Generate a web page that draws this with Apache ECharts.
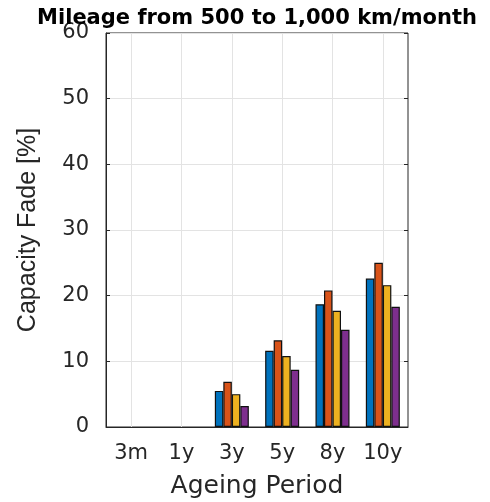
<!DOCTYPE html>
<html>
<head>
<meta charset="utf-8">
<title>Capacity fade</title>
<script src="https://cdn.jsdelivr.net/npm/echarts@6/dist/echarts.min.js"></script>
<style>
  html, body { margin: 0; padding: 0; background: #fff; }
  #main { width: 490px; height: 502px; }
</style>
</head>
<body>
<div id="main"></div>
<script>
// ageing periods and capacity fade [%] for the four bars of each group
var periods = ['3m', '1y', '3y', '5y', '8y', '10y'];
var fadeA = [0, 0, 5.5, 11.6, 18.7, 22.6];
var fadeB = [0, 0, 6.9, 13.2, 20.8, 25.0];
var fadeC = [0, 0, 5.0, 10.8, 17.7, 21.6];
var fadeD = [0, 0, 3.2, 8.7, 14.8, 18.3];
var yTicks = [0, 10, 20, 30, 40, 50, 60];

var colors = ['#0072BD', '#D95319', '#EDB120', '#7E2F8E'];
var txt = '#262626';

var chart = echarts.init(document.getElementById('main'));

function bar(name, data) {
  return {
    name: name,
    type: 'bar',
    // zero fade draws no bar (matlab shows nothing there)
    data: data.map(function (v) { return v === 0 ? '-' : v; }),
    barWidth: 8.5,
    barGap: '0%',
    itemStyle: { borderColor: '#111', borderWidth: 1.2 }
  };
}

chart.setOption({
  animation: false,
  color: colors,
  title: {
    text: 'Mileage from 500 to 1,000 km/month',
    left: 252,
    textAlign: 'center',
    top: 3,
    textStyle: { fontFamily: 'DejaVu Sans', fontWeight: 'bold', fontSize: 21, color: '#000' }
  },
  grid: {
    left: 106, right: 82, top: 33, bottom: 75,
    containLabel: false,
    outerBoundsMode: 'none',
    show: true, borderColor: txt, borderWidth: 1
  },
  xAxis: [{
    type: 'category',
    data: periods,
    name: 'Ageing Period',
    nameLocation: 'middle',
    nameGap: 47,
    nameTextStyle: { fontFamily: 'DejaVu Sans', fontSize: 25, color: txt },
    axisLine: { lineStyle: { color: txt, width: 1 } },
    axisTick: { inside: true, length: 4, alignWithLabel: true, lineStyle: { color: txt } },
    axisLabel: { interval: 0, fontFamily: 'DejaVu Sans', fontSize: 21, color: txt, margin: 16 },
    splitLine: { show: true, alignWithLabel: true, lineStyle: { color: '#e3e3e3', width: 1 } }
  }, {
    type: 'category',
    data: periods,
    position: 'top',
    axisLine: { show: false },
    axisTick: { inside: true, length: 4, alignWithLabel: true, lineStyle: { color: txt } },
    axisLabel: { show: false },
    splitLine: { show: false }
  }],
  yAxis: [{
    type: 'value',
    min: 0, max: 60, interval: 10,
    name: 'Capacity Fade [%]',
    nameLocation: 'middle',
    nameGap: 65,
    nameTextStyle: { fontFamily: 'Liberation Sans', fontSize: 25, color: txt },
    axisLine: { show: true, lineStyle: { color: txt, width: 1 } },
    axisTick: { show: true, inside: true, length: 4, lineStyle: { color: txt } },
    axisLabel: {
      fontFamily: 'DejaVu Sans', fontSize: 21, color: txt, margin: 17,
      formatter: function (v) { return yTicks.indexOf(v) >= 0 ? String(v) : ''; }
    },
    splitLine: { show: true, lineStyle: { color: '#e3e3e3', width: 1 } }
  }, {
    type: 'value',
    min: 0, max: 60, interval: 10,
    position: 'right',
    axisLine: { show: false },
    axisTick: { show: true, inside: true, length: 4, lineStyle: { color: txt } },
    axisLabel: { show: false },
    splitLine: { show: false }
  }],
  series: [
    bar('A', fadeA),
    bar('B', fadeB),
    bar('C', fadeC),
    bar('D', fadeD)
  ]
});

window.addEventListener('resize', function () {
  chart.resize();
});
</script>
</body>
</html>
